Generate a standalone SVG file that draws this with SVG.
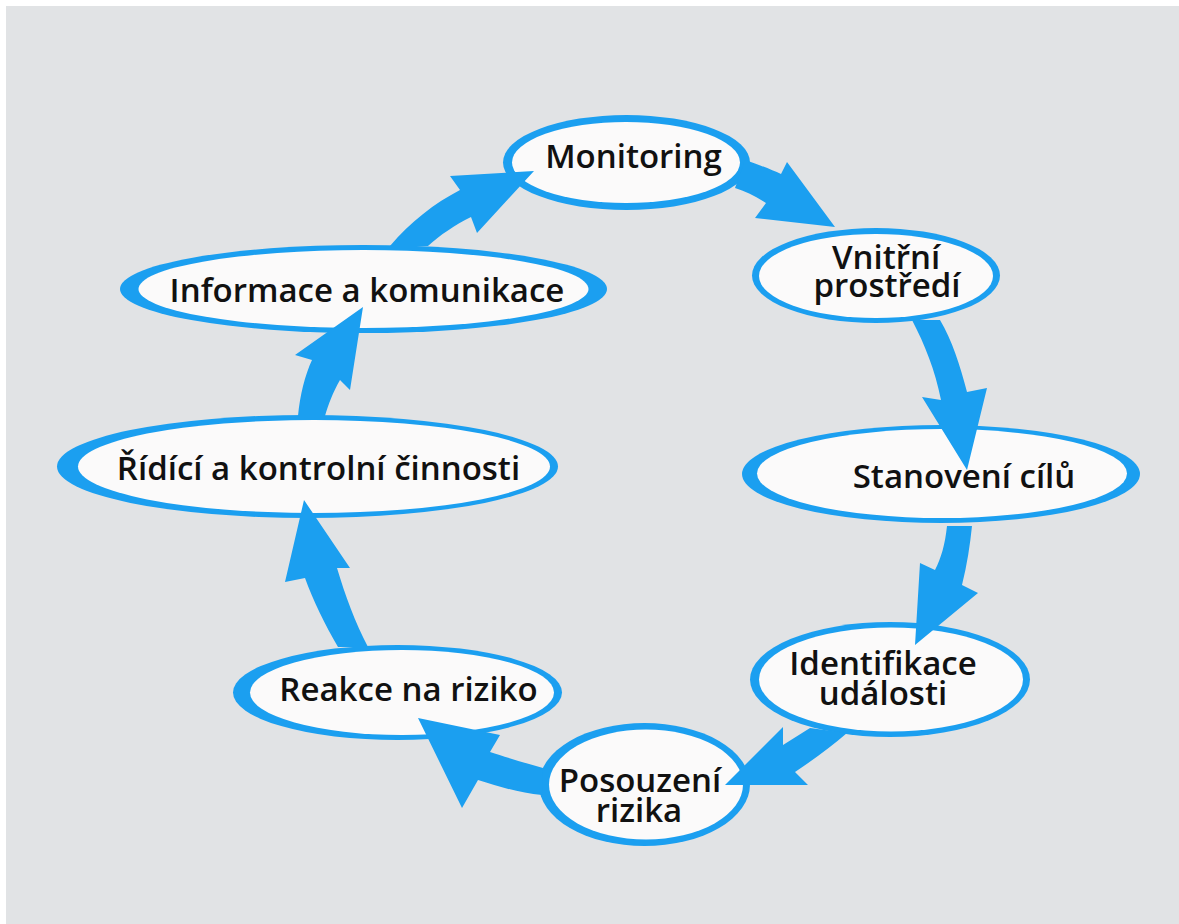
<svg xmlns="http://www.w3.org/2000/svg" width="1179" height="924" viewBox="0 0 1179 924">
<style>
.rim{fill:#1b9ff0}
.core{fill:#fbfafa}
.lbl{font-family:"Open Sans","Liberation Sans",sans-serif;font-weight:600;font-size:33px;fill:#111;text-anchor:middle}
.arr{fill:#1b9ff0}
</style>
<rect x="0" y="0" width="1179" height="924" fill="#ffffff"/>
<rect x="6" y="6" width="1173" height="918" fill="#e1e3e5"/>

<g id="node-monitoring">
<ellipse class="rim" cx="626.5" cy="162.5" rx="123.5" ry="47.5"/>
<ellipse class="core" cx="626" cy="162.5" rx="114" ry="40.5"/>
<text class="lbl" x="633.5" y="168">Monitoring</text>
</g>
<g id="node-vnitrni">
<ellipse class="rim" cx="876" cy="275.5" rx="124" ry="47.5"/>
<ellipse class="core" cx="876" cy="276" rx="117" ry="42"/>
<text class="lbl" x="886" y="269">Vnitřní</text>
<text class="lbl" x="887" y="297">prostředí</text>
</g>
<g id="node-stanoveni">
<ellipse class="rim" cx="941" cy="474" rx="199" ry="49"/>
<ellipse class="core" cx="942" cy="473.5" rx="185" ry="44.5"/>
<text class="lbl" x="964" y="488">Stanovení cílů</text>
</g>
<g id="node-identifikace">
<ellipse class="rim" cx="890" cy="679.5" rx="140" ry="57.5"/>
<ellipse class="core" cx="891" cy="679.5" rx="132" ry="52"/>
<text class="lbl" x="883" y="675">Identifikace</text>
<text class="lbl" x="883" y="705">události</text>
</g>
<g id="node-posouzeni">
<ellipse class="rim" cx="644.5" cy="784.5" rx="105.5" ry="61.5"/>
<ellipse class="core" cx="646" cy="784.5" rx="97" ry="55"/>
<text class="lbl" x="640" y="792">Posouzení</text>
<text class="lbl" x="639" y="822">rizika</text>
</g>
<g id="node-reakce">
<ellipse class="rim" cx="397.5" cy="692.5" rx="164.5" ry="47.5"/>
<ellipse class="core" cx="402" cy="692.5" rx="152" ry="42.5"/>
<text class="lbl" x="408.5" y="701">Reakce na riziko</text>
</g>
<g id="node-ridici">
<ellipse class="rim" cx="307.5" cy="466.5" rx="250.5" ry="51.5"/>
<ellipse class="core" cx="314" cy="466.5" rx="236" ry="46.5"/>
<text class="lbl" x="318.5" y="480">Řídící a kontrolní činnosti</text>
</g>
<g id="node-informace">
<ellipse class="rim" cx="363.5" cy="289" rx="243.5" ry="44"/>
<ellipse class="core" cx="363.5" cy="289" rx="225" ry="39"/>
<text class="lbl" x="367" y="302">Informace a komunikace</text>
</g>

<g id="connectors">
<path class="arr" d="M390,246 C410,222 435,203 460,190 L450,176 L534,171 L477,233 L471,217 C455,225 440,235 428,246 Z"/>
<path class="arr" d="M745,160 C760,165 772,170 781,174 L787,162 L835,227 L755,218 L766,203 C755,196 745,191 735,188 Z"/>
<path class="arr" d="M912,320 C925,345 935,370 941,400 L922,397 L967,470 L987,388 L967,392 C960,365 952,340 940,320 Z"/>
<path class="arr" d="M947,526 C945,545 941,558 935,570 L920,563 L915,645 L978,593 L962,585 C967,565 970,545 972,526 Z"/>
<path class="arr" d="M810,728 L783,745 L783,727 L725,785 L808,785 L795,772 Q825,752 847,733 Z"/>
<path class="arr" d="M543,768 C525,763 505,757 490,752 L500,735 L418,718 L462,808 L478,780 C500,787 520,793 542,795 Z"/>
<path class="arr" d="M338,647 C325,625 313,600 305,578 L285,582 L304,500 L350,568 L337,568 C345,595 355,622 368,647 Z"/>
<path class="arr" d="M298,416 C300,395 305,375 312,360 L295,355 L363,307 L350,390 L340,380 C333,392 328,405 325,416 Z"/>
</g>
</svg>
